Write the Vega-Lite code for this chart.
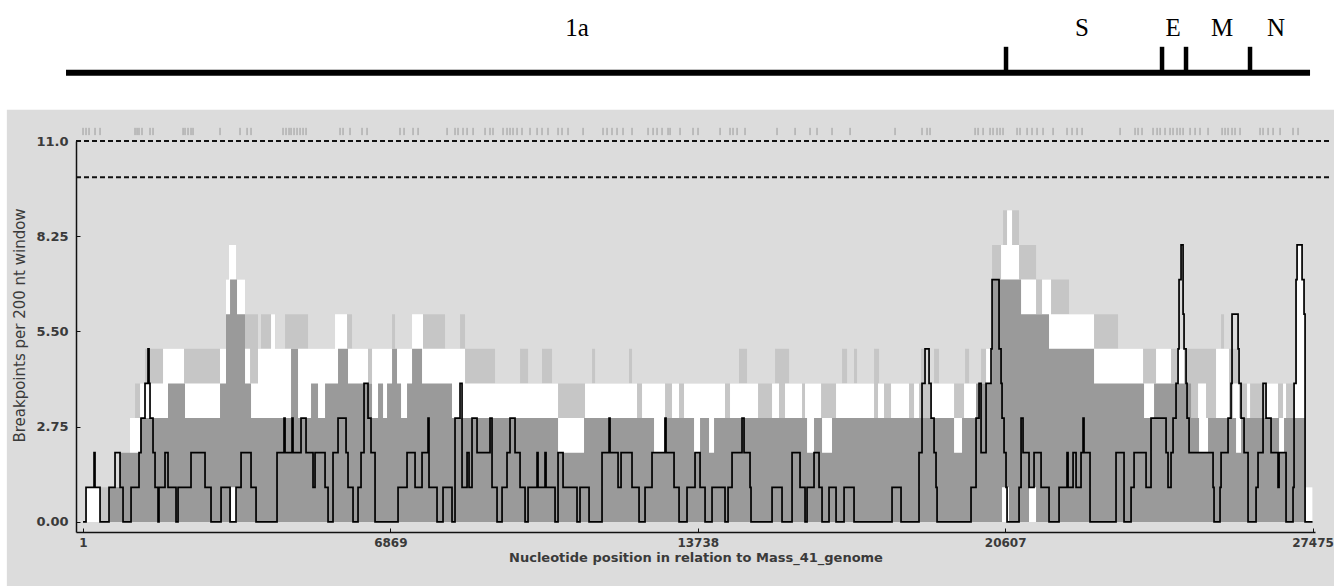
{
  "$schema": "https://vega.github.io/schema/vega-lite/v6.json",
  "width": 1239,
  "height": 391,
  "autosize": {"type": "none"},
  "padding": {"left": 76, "top": 141, "right": 19, "bottom": 54},
  "background": "white",
  "config": {"view": {"stroke": null}, "font": "DejaVu Sans"},
  "datasets": {
    "lg": [{"pos":2,"val":0},{"pos":69,"val":1},{"pos":1052,"val":3},{"pos":1164,"val":4},{"pos":1387,"val":5},{"pos":3197,"val":7},{"pos":3622,"val":6},{"pos":3912,"val":5},{"pos":3979,"val":6},{"pos":4292,"val":5},{"pos":4516,"val":6},{"pos":5030,"val":5},{"pos":5901,"val":6},{"pos":6013,"val":5},{"pos":6907,"val":6},{"pos":6974,"val":5},{"pos":7599,"val":6},{"pos":8091,"val":5},{"pos":8426,"val":6},{"pos":8538,"val":5},{"pos":9208,"val":4},{"pos":9767,"val":5},{"pos":9946,"val":4},{"pos":10258,"val":5},{"pos":10482,"val":4},{"pos":11376,"val":5},{"pos":11443,"val":4},{"pos":12202,"val":5},{"pos":12269,"val":4},{"pos":14660,"val":5},{"pos":14839,"val":4},{"pos":15465,"val":5},{"pos":15778,"val":4},{"pos":16962,"val":5},{"pos":17074,"val":4},{"pos":17230,"val":5},{"pos":17297,"val":4},{"pos":17677,"val":5},{"pos":17789,"val":4},{"pos":18727,"val":5},{"pos":18794,"val":4},{"pos":19018,"val":5},{"pos":19129,"val":4},{"pos":19710,"val":5},{"pos":19800,"val":4},{"pos":20068,"val":5},{"pos":20314,"val":8},{"pos":20559,"val":9},{"pos":20917,"val":8},{"pos":21297,"val":7},{"pos":22034,"val":6},{"pos":23129,"val":5},{"pos":25431,"val":6},{"pos":25498,"val":5},{"pos":25833,"val":4},{"pos":27308,"val":1},{"pos":27475,"val":1}],
    "wt": [{"pos":2,"val":0},{"pos":69,"val":1},{"pos":382,"val":0},{"pos":1052,"val":3},{"pos":1276,"val":4},{"pos":1790,"val":5},{"pos":2259,"val":4},{"pos":3063,"val":5},{"pos":3197,"val":7},{"pos":3264,"val":8},{"pos":3421,"val":7},{"pos":3622,"val":5},{"pos":3734,"val":4},{"pos":3912,"val":5},{"pos":4203,"val":6},{"pos":4292,"val":5},{"pos":5633,"val":6},{"pos":5901,"val":5},{"pos":6370,"val":4},{"pos":6460,"val":5},{"pos":7354,"val":6},{"pos":7599,"val":5},{"pos":8538,"val":4},{"pos":10616,"val":3},{"pos":11219,"val":4},{"pos":12381,"val":3},{"pos":12493,"val":4},{"pos":13007,"val":3},{"pos":13163,"val":4},{"pos":13320,"val":3},{"pos":13431,"val":4},{"pos":14347,"val":3},{"pos":14459,"val":4},{"pos":15085,"val":3},{"pos":15398,"val":4},{"pos":15554,"val":3},{"pos":15688,"val":4},{"pos":16068,"val":3},{"pos":16135,"val":4},{"pos":16493,"val":3},{"pos":16828,"val":4},{"pos":17677,"val":3},{"pos":17766,"val":4},{"pos":17900,"val":3},{"pos":18057,"val":4},{"pos":18459,"val":3},{"pos":18571,"val":4},{"pos":18682,"val":3},{"pos":18951,"val":4},{"pos":19465,"val":3},{"pos":19688,"val":4},{"pos":20180,"val":5},{"pos":20314,"val":7},{"pos":20515,"val":8},{"pos":20649,"val":9},{"pos":20761,"val":8},{"pos":20917,"val":7},{"pos":21297,"val":6},{"pos":21431,"val":7},{"pos":21632,"val":6},{"pos":22593,"val":5},{"pos":23688,"val":4},{"pos":23978,"val":5},{"pos":24313,"val":4},{"pos":24470,"val":5},{"pos":24604,"val":3},{"pos":24917,"val":4},{"pos":25095,"val":3},{"pos":25319,"val":5},{"pos":25609,"val":3},{"pos":25699,"val":4},{"pos":25833,"val":3},{"pos":26012,"val":4},{"pos":26079,"val":3},{"pos":26436,"val":4},{"pos":26704,"val":3},{"pos":26816,"val":4},{"pos":26883,"val":3},{"pos":27062,"val":4},{"pos":27129,"val":8},{"pos":27241,"val":7},{"pos":27285,"val":6},{"pos":27308,"val":1},{"pos":27475,"val":1}],
    "dg": [{"pos":2,"val":0,"low":0},{"pos":605,"val":1,"low":0},{"pos":829,"val":2,"low":0},{"pos":1276,"val":3,"low":0},{"pos":1901,"val":4,"low":0},{"pos":2281,"val":3,"low":0},{"pos":3063,"val":4,"low":0},{"pos":3197,"val":6,"low":0},{"pos":3287,"val":7,"low":0},{"pos":3309,"val":7,"low":1},{"pos":3443,"val":6,"low":0},{"pos":3622,"val":4,"low":0},{"pos":3756,"val":3,"low":0},{"pos":4650,"val":5,"low":0},{"pos":4806,"val":3,"low":0},{"pos":5097,"val":4,"low":0},{"pos":5253,"val":3,"low":0},{"pos":5410,"val":4,"low":0},{"pos":5700,"val":5,"low":0},{"pos":5923,"val":4,"low":0},{"pos":6460,"val":3,"low":0},{"pos":6594,"val":4,"low":0},{"pos":6706,"val":3,"low":0},{"pos":6795,"val":4,"low":0},{"pos":6907,"val":5,"low":0},{"pos":7018,"val":4,"low":0},{"pos":7108,"val":3,"low":0},{"pos":7242,"val":4,"low":0},{"pos":7354,"val":5,"low":0},{"pos":7577,"val":4,"low":0},{"pos":8247,"val":3,"low":0},{"pos":10616,"val":2,"low":0},{"pos":11197,"val":3,"low":0},{"pos":12761,"val":2,"low":0},{"pos":12984,"val":3,"low":0},{"pos":13655,"val":2,"low":0},{"pos":13789,"val":3,"low":0},{"pos":13990,"val":2,"low":0},{"pos":14102,"val":3,"low":0},{"pos":16180,"val":2,"low":0},{"pos":16336,"val":3,"low":0},{"pos":16515,"val":2,"low":0},{"pos":16738,"val":3,"low":0},{"pos":19465,"val":2,"low":0},{"pos":19643,"val":3,"low":0},{"pos":19956,"val":4,"low":0},{"pos":20314,"val":7,"low":0},{"pos":20537,"val":7,"low":1},{"pos":20693,"val":7,"low":0},{"pos":20962,"val":6,"low":0},{"pos":21140,"val":6,"low":1},{"pos":21297,"val":6,"low":0},{"pos":21587,"val":5,"low":0},{"pos":22593,"val":4,"low":0},{"pos":23710,"val":3,"low":0},{"pos":23934,"val":4,"low":0},{"pos":24760,"val":3,"low":0},{"pos":24939,"val":2,"low":0},{"pos":25140,"val":3,"low":0},{"pos":25766,"val":2,"low":0},{"pos":25878,"val":3,"low":0},{"pos":26727,"val":2,"low":0},{"pos":26838,"val":3,"low":0},{"pos":27308,"val":0,"low":0},{"pos":27475,"val":0,"low":0}],
    "bl": [{"pos":2,"val":0},{"pos":69,"val":1},{"pos":248,"val":2},{"pos":270,"val":1},{"pos":382,"val":0},{"pos":583,"val":1},{"pos":717,"val":2},{"pos":829,"val":1},{"pos":896,"val":0},{"pos":1075,"val":1},{"pos":1253,"val":2},{"pos":1298,"val":3},{"pos":1387,"val":4},{"pos":1454,"val":5},{"pos":1477,"val":4},{"pos":1499,"val":3},{"pos":1566,"val":2},{"pos":1611,"val":1},{"pos":1678,"val":0},{"pos":1700,"val":1},{"pos":1834,"val":2},{"pos":1901,"val":1},{"pos":2080,"val":0},{"pos":2125,"val":1},{"pos":2415,"val":2},{"pos":2728,"val":1},{"pos":2862,"val":0},{"pos":3086,"val":1},{"pos":3287,"val":0},{"pos":3421,"val":1},{"pos":3533,"val":2},{"pos":3756,"val":1},{"pos":3868,"val":0},{"pos":4337,"val":2},{"pos":4493,"val":3},{"pos":4516,"val":2},{"pos":4672,"val":3},{"pos":4694,"val":2},{"pos":4873,"val":3},{"pos":4985,"val":2},{"pos":5141,"val":1},{"pos":5186,"val":2},{"pos":5410,"val":1},{"pos":5477,"val":0},{"pos":5588,"val":2},{"pos":5700,"val":3},{"pos":5879,"val":2},{"pos":5923,"val":1},{"pos":6035,"val":0},{"pos":6147,"val":1},{"pos":6214,"val":2},{"pos":6281,"val":4},{"pos":6370,"val":3},{"pos":6437,"val":2},{"pos":6527,"val":0},{"pos":7041,"val":1},{"pos":7242,"val":2},{"pos":7421,"val":1},{"pos":7577,"val":2},{"pos":7711,"val":3},{"pos":7733,"val":1},{"pos":7912,"val":0},{"pos":8046,"val":1},{"pos":8247,"val":0},{"pos":8314,"val":3},{"pos":8426,"val":4},{"pos":8471,"val":1},{"pos":8583,"val":2},{"pos":8627,"val":1},{"pos":8694,"val":3},{"pos":8806,"val":2},{"pos":9096,"val":3},{"pos":9141,"val":1},{"pos":9253,"val":0},{"pos":9365,"val":1},{"pos":9476,"val":2},{"pos":9543,"val":3},{"pos":9655,"val":2},{"pos":9767,"val":1},{"pos":9879,"val":0},{"pos":9946,"val":1},{"pos":10147,"val":2},{"pos":10169,"val":1},{"pos":10325,"val":2},{"pos":10348,"val":1},{"pos":10549,"val":0},{"pos":10616,"val":2},{"pos":10728,"val":1},{"pos":11040,"val":0},{"pos":11107,"val":1},{"pos":11309,"val":0},{"pos":11599,"val":2},{"pos":11756,"val":3},{"pos":11778,"val":2},{"pos":11957,"val":1},{"pos":12024,"val":2},{"pos":12269,"val":1},{"pos":12426,"val":0},{"pos":12560,"val":1},{"pos":12716,"val":2},{"pos":13007,"val":3},{"pos":13029,"val":2},{"pos":13208,"val":1},{"pos":13320,"val":0},{"pos":13498,"val":1},{"pos":13677,"val":2},{"pos":13789,"val":1},{"pos":13901,"val":0},{"pos":14057,"val":1},{"pos":14347,"val":0},{"pos":14415,"val":1},{"pos":14504,"val":2},{"pos":14727,"val":3},{"pos":14772,"val":2},{"pos":14906,"val":1},{"pos":14928,"val":0},{"pos":15398,"val":1},{"pos":15621,"val":0},{"pos":15845,"val":2},{"pos":16023,"val":1},{"pos":16135,"val":0},{"pos":16180,"val":1},{"pos":16336,"val":2},{"pos":16448,"val":1},{"pos":16515,"val":0},{"pos":16671,"val":1},{"pos":16828,"val":0},{"pos":17007,"val":1},{"pos":17230,"val":0},{"pos":18079,"val":1},{"pos":18280,"val":0},{"pos":18682,"val":2},{"pos":18749,"val":4},{"pos":18816,"val":5},{"pos":18906,"val":4},{"pos":18951,"val":3},{"pos":19018,"val":2},{"pos":19062,"val":1},{"pos":19085,"val":0},{"pos":19844,"val":1},{"pos":19956,"val":3},{"pos":20023,"val":4},{"pos":20068,"val":2},{"pos":20180,"val":4},{"pos":20291,"val":5},{"pos":20314,"val":7},{"pos":20470,"val":5},{"pos":20515,"val":4},{"pos":20537,"val":3},{"pos":20582,"val":2},{"pos":20626,"val":1},{"pos":20649,"val":0},{"pos":20917,"val":1},{"pos":20962,"val":3},{"pos":21006,"val":2},{"pos":21140,"val":1},{"pos":21252,"val":2},{"pos":21409,"val":1},{"pos":21587,"val":0},{"pos":21811,"val":1},{"pos":21989,"val":2},{"pos":22012,"val":1},{"pos":22124,"val":2},{"pos":22191,"val":1},{"pos":22302,"val":2},{"pos":22347,"val":3},{"pos":22369,"val":2},{"pos":22503,"val":0},{"pos":23084,"val":2},{"pos":23263,"val":0},{"pos":23420,"val":1},{"pos":23487,"val":2},{"pos":23755,"val":1},{"pos":23866,"val":3},{"pos":24202,"val":2},{"pos":24246,"val":1},{"pos":24313,"val":2},{"pos":24358,"val":3},{"pos":24425,"val":4},{"pos":24470,"val":5},{"pos":24492,"val":7},{"pos":24537,"val":8},{"pos":24582,"val":6},{"pos":24604,"val":5},{"pos":24649,"val":4},{"pos":24671,"val":3},{"pos":24716,"val":2},{"pos":25252,"val":1},{"pos":25274,"val":0},{"pos":25408,"val":1},{"pos":25431,"val":2},{"pos":25587,"val":3},{"pos":25654,"val":4},{"pos":25676,"val":6},{"pos":25811,"val":5},{"pos":25833,"val":4},{"pos":25878,"val":3},{"pos":25945,"val":2},{"pos":26034,"val":0},{"pos":26213,"val":1},{"pos":26257,"val":2},{"pos":26369,"val":4},{"pos":26436,"val":3},{"pos":26548,"val":2},{"pos":26704,"val":1},{"pos":26727,"val":2},{"pos":26883,"val":0},{"pos":27039,"val":1},{"pos":27062,"val":4},{"pos":27106,"val":7},{"pos":27129,"val":8},{"pos":27241,"val":7},{"pos":27285,"val":6},{"pos":27308,"val":0},{"pos":27475,"val":0}],
    "bp": [{"pos":2},{"pos":69},{"pos":136},{"pos":270},{"pos":382},{"pos":1164},{"pos":1209},{"pos":1253},{"pos":1320},{"pos":1499},{"pos":1566},{"pos":2237},{"pos":2281},{"pos":2348},{"pos":2415},{"pos":2460},{"pos":3063},{"pos":3510},{"pos":3667},{"pos":3756},{"pos":4471},{"pos":4538},{"pos":4605},{"pos":4650},{"pos":4717},{"pos":4784},{"pos":4851},{"pos":4918},{"pos":4985},{"pos":5745},{"pos":5812},{"pos":5968},{"pos":6236},{"pos":6348},{"pos":7085},{"pos":7175},{"pos":7376},{"pos":7488},{"pos":8136},{"pos":8314},{"pos":8381},{"pos":8493},{"pos":8583},{"pos":8717},{"pos":8985},{"pos":9096},{"pos":9163},{"pos":9387},{"pos":9476},{"pos":9543},{"pos":9610},{"pos":9700},{"pos":9811},{"pos":9990},{"pos":10147},{"pos":10258},{"pos":10392},{"pos":10616},{"pos":10705},{"pos":10839},{"pos":11175},{"pos":11621},{"pos":11711},{"pos":11822},{"pos":11934},{"pos":12068},{"pos":12269},{"pos":12627},{"pos":12739},{"pos":12828},{"pos":12940},{"pos":13074},{"pos":13119},{"pos":13342},{"pos":13632},{"pos":13744},{"pos":14236},{"pos":14459},{"pos":14526},{"pos":14616},{"pos":14794},{"pos":15509},{"pos":15912},{"pos":16247},{"pos":16403},{"pos":16738},{"pos":17141},{"pos":18146},{"pos":18749},{"pos":18861},{"pos":18928},{"pos":19934},{"pos":20001},{"pos":20113},{"pos":20269},{"pos":20336},{"pos":20425},{"pos":20492},{"pos":20559},{"pos":20872},{"pos":20939},{"pos":21096},{"pos":21207},{"pos":21319},{"pos":21453},{"pos":21677},{"pos":21989},{"pos":22101},{"pos":22213},{"pos":22325},{"pos":23174},{"pos":23509},{"pos":23576},{"pos":23665},{"pos":23911},{"pos":24001},{"pos":24068},{"pos":24179},{"pos":24291},{"pos":24358},{"pos":24447},{"pos":24514},{"pos":24582},{"pos":24738},{"pos":24850},{"pos":24961},{"pos":25140},{"pos":25453},{"pos":25520},{"pos":25587},{"pos":25676},{"pos":25743},{"pos":25855},{"pos":26302},{"pos":26369},{"pos":26481},{"pos":26593},{"pos":26749},{"pos":27039},{"pos":27151}],
    "ref": [{"val": 11}, {"val": 9.95}],
    "genome": [{"start": -378, "end": 27419}],
    "genes": [{"pos": 20626}, {"pos": 24112}, {"pos": 24648}, {"pos": 26078}],
    "labels": [{"name": "1a", "pos": 11040}, {"name": "S", "pos": 22324}, {"name": "E", "pos": 24358}, {"name": "M", "pos": 25453}, {"name": "N", "pos": 26659}]
  },
  "layer": [
    {
      "data": {"values": [{}]},
      "mark": {"type": "rect", "fill": "#DCDCDC", "clip": false},
      "encoding": {
        "x": {"datum": -1700, "type": "quantitative", "scale": {"domain": [-155, 27530], "nice": false, "zero": false},
          "axis": {"zindex": 2, "values": [1, 6869, 13738, 20607, 27475], "format": "d", "title": "Nucleotide position in relation to Mass_41_genome", "grid": false, "domainColor": "#111111", "domainWidth": 1.5, "tickColor": "#111111", "tickSize": -4, "labelFont": "DejaVu Sans", "labelFontWeight": "bold", "labelFontSize": 12, "labelColor": "#3a3a3a", "labelPadding": 9, "labelFlush": false, "labelOverlap": false, "titleFont": "DejaVu Sans", "titleFontWeight": "bold", "titleFontSize": 13, "titleColor": "#3a3a3a", "titlePadding": 3}},
        "x2": {"datum": 28600},
        "y": {"datum": 11.9, "type": "quantitative", "scale": {"domain": [-0.29, 11], "nice": false, "zero": false},
          "axis": {"zindex": 2, "values": [0, 2.75, 5.5, 8.25, 11], "labelExpr": "datum.value == 11 ? '11.0' : format(datum.value, '.2f')", "title": "Breakpoints per 200 nt window", "grid": false, "domainColor": "#111111", "domainWidth": 1.5, "tickColor": "#111111", "tickSize": -4, "labelFont": "DejaVu Sans", "labelFontWeight": "bold", "labelFontSize": 13, "labelColor": "#3a3a3a", "labelPadding": 12, "titleFont": "DejaVu Sans", "titleFontWeight": "normal", "titleFontSize": 15, "titleColor": "#3a3a3a", "titleX": -57, "titleY": 184, "titleAngle": -90, "titleBaseline": "middle", "titleAlign": "center"}},
        "y2": {"datum": -2.6}
      }
    },
    {
      "data": {"name": "lg"},
      "mark": {"type": "area", "interpolate": "step-after", "color": "#C6C6C6"},
      "encoding": {
        "x": {"field": "pos", "type": "quantitative", "scale": {"domain": [-155, 27530], "nice": false, "zero": false}},
        "y": {"field": "val", "type": "quantitative", "scale": {"domain": [-0.29, 11], "nice": false, "zero": false}}
      }
    },
    {
      "data": {"name": "wt"},
      "mark": {"type": "area", "interpolate": "step-after", "color": "#FFFFFF"},
      "encoding": {
        "x": {"field": "pos", "type": "quantitative", "scale": {"domain": [-155, 27530], "nice": false, "zero": false}},
        "y": {"field": "val", "type": "quantitative", "scale": {"domain": [-0.29, 11], "nice": false, "zero": false}}
      }
    },
    {
      "data": {"name": "dg"},
      "mark": {"type": "area", "interpolate": "step-after", "color": "#9A9A9A"},
      "encoding": {
        "x": {"field": "pos", "type": "quantitative", "scale": {"domain": [-155, 27530], "nice": false, "zero": false}},
        "y": {"field": "val", "type": "quantitative", "scale": {"domain": [-0.29, 11], "nice": false, "zero": false}},
        "y2": {"field": "low"}
      }
    },
    {
      "data": {"name": "bl"},
      "mark": {"type": "line", "interpolate": "step-after", "color": "#000000", "strokeWidth": 1.7},
      "encoding": {
        "x": {"field": "pos", "type": "quantitative", "scale": {"domain": [-155, 27530], "nice": false, "zero": false}},
        "y": {"field": "val", "type": "quantitative", "scale": {"domain": [-0.29, 11], "nice": false, "zero": false}}
      }
    },
    {
      "data": {"name": "ref"},
      "mark": {"type": "rule", "color": "#111111", "strokeWidth": 2, "strokeDash": [5, 3], "clip": false},
      "encoding": {
        "x": {"datum": -155, "type": "quantitative", "scale": {"domain": [-155, 27530], "nice": false, "zero": false}},
        "x2": {"datum": 27870},
        "y": {"field": "val", "type": "quantitative", "scale": {"domain": [-0.29, 11], "nice": false, "zero": false}}
      }
    },
    {
      "data": {"name": "bp"},
      "mark": {"type": "rule", "color": "#9a9a9a", "strokeWidth": 1, "clip": false},
      "encoding": {
        "x": {"field": "pos", "type": "quantitative", "scale": {"domain": [-155, 27530], "nice": false, "zero": false}},
        "y": {"datum": 11.17, "type": "quantitative", "scale": {"domain": [-0.29, 11], "nice": false, "zero": false}},
        "y2": {"datum": 11.38}
      }
    },
    {
      "data": {"name": "genome"},
      "mark": {"type": "rule", "color": "#000000", "strokeWidth": 6, "clip": false},
      "encoding": {
        "x": {"field": "start", "type": "quantitative", "scale": {"domain": [-155, 27530], "nice": false, "zero": false}},
        "x2": {"field": "end"},
        "y": {"datum": 12.97, "type": "quantitative", "scale": {"domain": [-0.29, 11], "nice": false, "zero": false}}
      }
    },
    {
      "data": {"name": "genes"},
      "mark": {"type": "rule", "color": "#000000", "strokeWidth": 4.5, "clip": false},
      "encoding": {
        "x": {"field": "pos", "type": "quantitative", "scale": {"domain": [-155, 27530], "nice": false, "zero": false}},
        "y": {"datum": 13.05, "type": "quantitative", "scale": {"domain": [-0.29, 11], "nice": false, "zero": false}},
        "y2": {"datum": 13.72}
      }
    },
    {
      "data": {"name": "labels"},
      "mark": {"type": "text", "font": "Liberation Serif", "fontSize": 25, "color": "#000000", "align": "center", "baseline": "alphabetic", "clip": false},
      "encoding": {
        "x": {"field": "pos", "type": "quantitative", "scale": {"domain": [-155, 27530], "nice": false, "zero": false}},
        "y": {"datum": 14.02, "type": "quantitative", "scale": {"domain": [-0.29, 11], "nice": false, "zero": false}},
        "text": {"field": "name"}
      }
    }
  ]
}
